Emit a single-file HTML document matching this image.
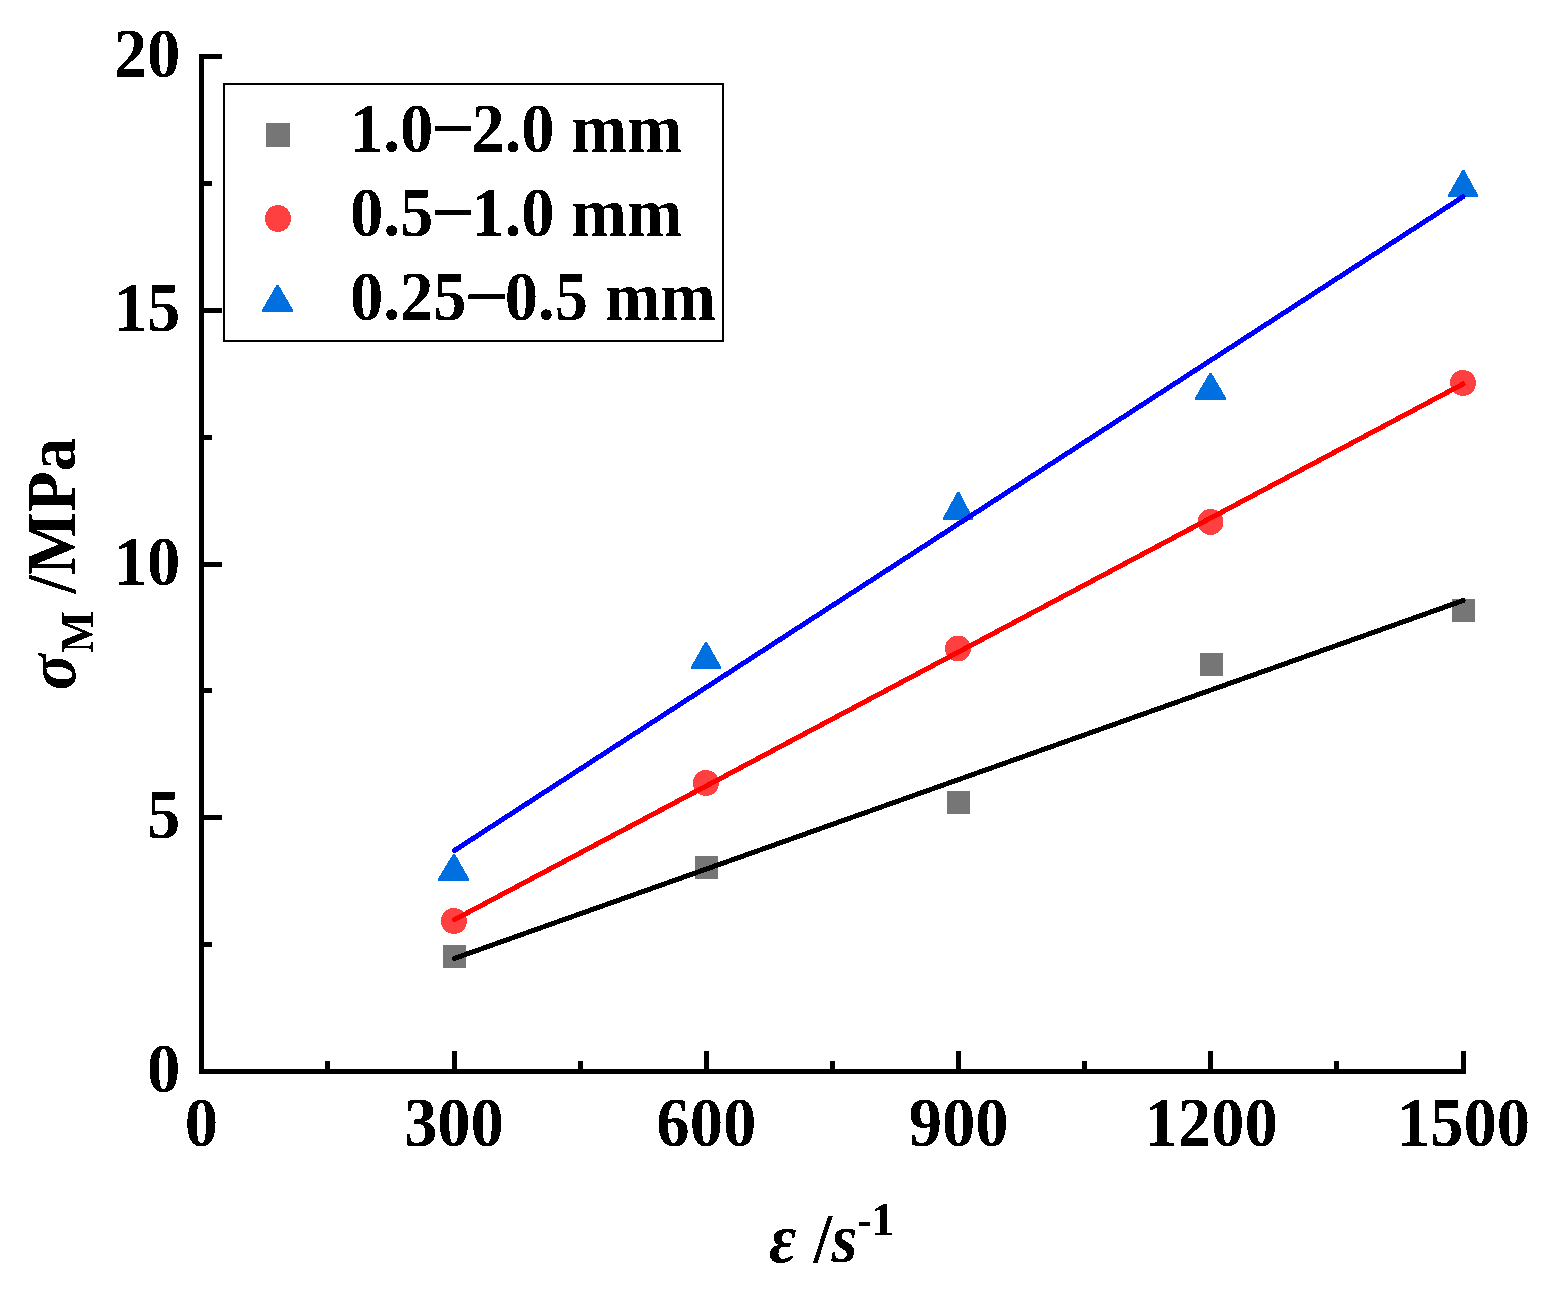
<!DOCTYPE html>
<html lang="en"><head><meta charset="utf-8">
<style>
html,body{margin:0;padding:0;background:#fff;}
body{width:1557px;height:1292px;}
svg{display:block;}
text{font-family:"Liberation Serif","DejaVu Serif",serif;font-weight:bold;fill:#000;font-size:66.67px;}
.i{font-style:italic;}
.s{font-size:44.5px;}
</style></head><body>
<svg width="1557" height="1292" viewBox="0 0 1557 1292">
<rect x="0" y="0" width="1557" height="1292" fill="#fff"/>
<defs><filter id="bin" x="0" y="0" width="1557" height="1292" filterUnits="userSpaceOnUse" color-interpolation-filters="sRGB"><feComponentTransfer><feFuncA type="discrete" tableValues="0 1"/></feComponentTransfer></filter></defs>
<g shape-rendering="crispEdges">
<rect x="443.0" y="945.0" width="23" height="23" fill="#767676"/>
<rect x="695.0" y="856.0" width="23" height="23" fill="#767676"/>
<rect x="947.0" y="791.0" width="23" height="23" fill="#767676"/>
<rect x="1200.0" y="653.0" width="23" height="23" fill="#767676"/>
<rect x="1452.0" y="599.0" width="23" height="23" fill="#767676"/>
</g>
<g shape-rendering="crispEdges">
<circle cx="454.0" cy="921.0" r="13" fill="#ff4040"/>
<circle cx="706.0" cy="783.0" r="13" fill="#ff4040"/>
<circle cx="958.0" cy="648.5" r="13" fill="#ff4040"/>
<circle cx="1210.5" cy="522.0" r="13" fill="#ff4040"/>
<circle cx="1463.0" cy="383.0" r="13" fill="#ff4040"/>
<polygon points="454.0,855.3 439.4,879.5 467.6,879.5" fill="#0070e0" stroke="#0070e0" stroke-width="3.0" stroke-linejoin="round"/>
<polygon points="706.0,643.3 692.4,667.5 719.6,667.5" fill="#0070e0" stroke="#0070e0" stroke-width="3.0" stroke-linejoin="round"/>
<polygon points="958.3,493.3 944.4,518.5 971.6,518.5" fill="#0070e0" stroke="#0070e0" stroke-width="3.0" stroke-linejoin="round"/>
<polygon points="1210.5,374.3 1196.4,398.5 1224.6,398.5" fill="#0070e0" stroke="#0070e0" stroke-width="3.0" stroke-linejoin="round"/>
<polygon points="1463.3,171.3 1449.4,195.5 1476.6,195.5" fill="#0070e0" stroke="#0070e0" stroke-width="3.0" stroke-linejoin="round"/>
</g>
<g stroke-width="5.0" stroke-linecap="round" fill="none" shape-rendering="crispEdges">
<line x1="454.5" y1="958.4" x2="1463" y2="600.6" stroke="#000"/>
<line x1="454.5" y1="919.7" x2="1463" y2="384" stroke="#ff0000"/>
<line x1="454.5" y1="850.5" x2="1463" y2="196.8" stroke="#0000ff"/>
</g>
<g fill="#000" shape-rendering="crispEdges">
<rect x="199" y="54" width="5" height="1020"/>
<rect x="199" y="1069" width="1267" height="5"/>
<rect x="199" y="1069" width="23" height="5"/>
<rect x="199" y="815" width="23" height="5"/>
<rect x="199" y="562" width="23" height="5"/>
<rect x="199" y="308" width="23" height="5"/>
<rect x="199" y="54" width="23" height="5"/>
<rect x="199" y="942" width="13" height="5"/>
<rect x="199" y="688" width="13" height="5"/>
<rect x="199" y="435" width="13" height="5"/>
<rect x="199" y="181" width="13" height="5"/>
<rect x="199" y="1051" width="5" height="23"/>
<rect x="452" y="1051" width="5" height="23"/>
<rect x="704" y="1051" width="5" height="23"/>
<rect x="956" y="1051" width="5" height="23"/>
<rect x="1208" y="1051" width="5" height="23"/>
<rect x="1461" y="1051" width="5" height="23"/>
<rect x="325" y="1061" width="5" height="13"/>
<rect x="578" y="1061" width="5" height="13"/>
<rect x="830" y="1061" width="5" height="13"/>
<rect x="1082" y="1061" width="5" height="13"/>
<rect x="1334" y="1061" width="5" height="13"/>
</g>
<rect x="224" y="84" width="499" height="257" fill="#fff" stroke="#000" stroke-width="2" shape-rendering="crispEdges"/>
<rect x="266" y="123" width="24" height="24" fill="#767676" shape-rendering="crispEdges"/>
<ellipse cx="278" cy="218.5" rx="13" ry="13.5" fill="#ff4040" shape-rendering="crispEdges"/>
<g shape-rendering="crispEdges">
<polygon points="277.5,286.3 263.4,310.5 291.6,310.5" fill="#0070e0" stroke="#0070e0" stroke-width="3.0" stroke-linejoin="round"/>
</g>
<g filter="url(#bin)">
<text transform="translate(180.30,1092.00) scale(1,1.045)" text-anchor="end">0</text>
<text transform="translate(180.30,838.25) scale(1,1.045)" text-anchor="end">5</text>
<text transform="translate(180.30,584.50) scale(1,1.045)" text-anchor="end">10</text>
<text transform="translate(180.30,330.75) scale(1,1.045)" text-anchor="end">15</text>
<text transform="translate(180.30,77.00) scale(1,1.045)" text-anchor="end">20</text>
<text transform="translate(201.50,1145.50) scale(1,1.045)" text-anchor="middle">0</text>
<text transform="translate(453.90,1145.50) scale(1,1.045)" text-anchor="middle">300</text>
<text transform="translate(706.30,1145.50) scale(1,1.045)" text-anchor="middle">600</text>
<text transform="translate(958.70,1145.50) scale(1,1.045)" text-anchor="middle">900</text>
<text transform="translate(1211.10,1145.50) scale(1,1.045)" text-anchor="middle">1200</text>
<text transform="translate(1463.50,1145.50) scale(1,1.045)" text-anchor="middle">1500</text>
<text transform="translate(769.00,1262.00) scale(1,1.045)"><tspan class="i">ε</tspan> <tspan x="44.5">/</tspan><tspan class="i" x="62.5">s</tspan><tspan class="s" x="88" dy="-26">-1</tspan></text>
<text transform="translate(74.50,690.00) rotate(-90) scale(1,1.045)"><tspan class="i">σ</tspan><tspan class="s" dx="1" dy="17">M</tspan><tspan dx="1" dy="-17"> /MPa</tspan></text>
<text transform="translate(350.00,152.00) scale(1,1.045)">1.0<tspan dx="-2.3" textLength="44.6" lengthAdjust="spacingAndGlyphs">−</tspan><tspan dx="-4.3">2.0 mm</tspan></text>
<text transform="translate(350.00,236.00) scale(1,1.045)">0.5<tspan dx="-2.3" textLength="44.6" lengthAdjust="spacingAndGlyphs">−</tspan><tspan dx="-4.3">1.0 mm</tspan></text>
<text transform="translate(350.00,320.00) scale(1,1.045)">0.25<tspan dx="-2.3" textLength="44.6" lengthAdjust="spacingAndGlyphs">−</tspan><tspan dx="-4.3">0.5 mm</tspan></text>
</g>
</svg>
</body></html>
